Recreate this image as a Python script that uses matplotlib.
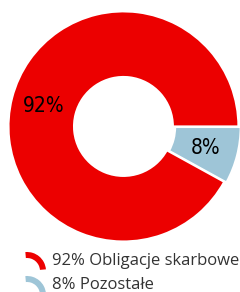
import matplotlib
matplotlib.use("Agg")
import matplotlib.pyplot as plt
from matplotlib.patches import Wedge

labels = ["Pozostałe", "Obligacje skarbowe"]
values = [8, 92]
colors = ["#9ec5d7", "#ec0000"]
legend_order = [1, 0]

fig = plt.figure(figsize=(2.4, 2.92), dpi=100)

# donut
ax = fig.add_axes([0.0354, 0.173, 0.958, 0.788])
wedges, texts, autotexts = ax.pie(
    values, colors=colors, startangle=0, counterclock=False,
    explode=[0.02, 0], radius=1.0,
    wedgeprops=dict(width=0.57, edgecolor="white", linewidth=1.5),
    autopct=lambda p: "%d%%" % round(p), pctdistance=0.72,
    textprops=dict(fontsize=15, color="black",
                   family="DejaVu Sans", fontstretch="condensed"))
ax.set_xlim(-1, 1)
ax.set_ylim(-1, 1)
ax.set_aspect("auto")
ax.axis("off")

# legend drawn in pixel coordinates
lax = fig.add_axes([0, 0, 1, 1])
lax.set_xlim(0, 240)
lax.set_ylim(292, 0)
lax.axis("off")
rows_y = [261, 285]
for row, i in enumerate(legend_order):
    cy = rows_y[row]
    lax.add_patch(Wedge((27, cy + 10), 19, -95, -5, width=6,
                        facecolor=colors[i], edgecolor="none"))
    lax.text(52, cy, "%d%% %s" % (values[i], labels[i]), fontsize=12,
             family="Open Sans", color="#333333", va="center", ha="left")

fig.savefig("out.png", dpi=100)
